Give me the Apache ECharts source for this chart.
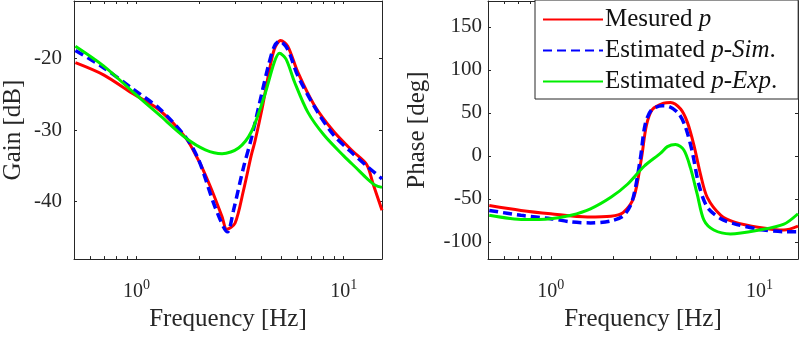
<!DOCTYPE html>
<html>
<head>
<meta charset="utf-8">
<script src="https://cdn.jsdelivr.net/npm/echarts@6/dist/echarts.min.js"></script>
<style>html,body{margin:0;padding:0;background:#fff}#c{width:800px;height:337px}</style>
</head>
<body>
<div id="c"></div>
<script>
// ---- data (frequency in Hz) ----
var gainMeasured = [[0.508,-20.6],[0.694,-22.3],[0.964,-24.95],[1.29,-27.2],[1.73,-31.1],[2.0,-34.3],[2.08,-35.3],[2.32,-38.5],[2.59,-42.1],[2.73,-43.85],[2.99,-43.0],[3.28,-38.5],[3.59,-33.4],[3.73,-31.6],[4.04,-27.0],[4.33,-22.4],[4.63,-18.7],[4.96,-17.5],[5.37,-18.3],[6.0,-21.9],[7.2,-26.5],[8.95,-30.2],[11.1,-33.0],[12.9,-34.8],[13.85,-37.5],[15.3,-41.2]];
var gainSim = [[0.508,-18.9],[0.694,-21.3],[0.964,-24.3],[1.29,-27.0],[1.73,-31.0],[2.0,-34.2],[2.4,-40.8],[2.75,-44.2],[2.94,-41.2],[3.28,-35.3],[3.59,-31.1],[4.04,-24.7],[4.33,-21.05],[4.63,-18.3],[4.90,-17.6],[5.37,-18.75],[6.0,-22.4],[7.49,-27.5],[8.95,-30.7],[10.8,-33.0],[12.9,-35.0],[15.3,-36.8]];
var gainExp = [[0.508,-18.3],[0.694,-21.05],[0.964,-24.7],[1.29,-27.9],[1.73,-31.1],[2.15,-32.75],[2.59,-33.3],[3.11,-32.5],[3.59,-30.2],[4.16,-25.1],[4.63,-20.5],[4.90,-19.3],[5.27,-20.1],[5.79,-23.3],[6.71,-27.5],[8.03,-30.7],[10.0,-33.6],[11.5,-35.3],[13.0,-36.8],[14.2,-37.7],[15.3,-38.0]];

var phaseMeasured = [[0.507,-57.7],[0.719,-63.4],[1.0,-67.3],[1.50,-71],[1.94,-70.2],[2.22,-66],[2.50,-48.2],[2.72,-2.6],[2.87,35],[3.07,54],[3.48,61.2],[3.75,62],[4.19,54.4],[4.51,39.2],[4.85,12.5],[5.22,-21.7],[5.62,-48.2],[6.53,-69.1],[7.53,-76.7],[10,-83.2],[13.1,-86.2],[15.3,-81.6]];
var phaseSim = [[0.507,-63.4],[0.719,-69.1],[1.0,-73],[1.25,-76.7],[1.55,-77.9],[1.94,-75.6],[2.24,-69.1],[2.46,-52],[2.68,-5],[2.83,36],[3.03,53],[3.42,58.2],[3.68,57.5],[4.11,48.7],[4.42,33.5],[4.76,5],[5.12,-33],[5.62,-59.6],[6.53,-73],[7.53,-78.7],[10,-85.5],[13.1,-88.1],[15.3,-88.1]];
var phaseExp = [[0.507,-69.1],[0.745,-74.1],[1.0,-73],[1.25,-69.1],[1.55,-61.6],[1.94,-48.2],[2.33,-33],[2.80,-12.1],[3.36,3.1],[3.62,10.7],[3.96,13.3],[4.34,6.8],[4.67,-14],[5.03,-44.5],[5.42,-74.8],[6.04,-86.2],[7.26,-90.8],[10,-86.2],[13.1,-79.4],[15.3,-67.3]];

var seriesNames = ['Mesured p', 'Estimated p-Sim.', 'Estimated p-Exp.'];
var xTickLabels = [1, 10];
var xTicks = [0.6,0.7,0.8,0.9,1,2,3,4,5,6,7,8,9,10];
var gainTicks = [-40,-30,-20];
var phaseTicks = [-100,-50,0,50,100,150];

var FONT = 'Liberation Serif';
var AX = '#262626';

function xAx(grid, pos, labels) {
  return {
    type: 'log', logBase: 10, gridIndex: grid, position: pos, min: 0.5, max: 15.3,
    name: labels ? 'Frequency [Hz]' : '', nameLocation: 'middle', nameGap: 47,
    nameTextStyle: {fontFamily: FONT, fontSize: 25, color: AX},
    axisLine: {show: true, onZero: false, lineStyle: {color: AX, width: 1}},
    axisTick: {show: true, inside: true, length: 3, customValues: xTicks, lineStyle: {color: AX}},
    minorTick: {show: false},
    splitLine: {show: false},
    axisLabel: labels ? {
      show: true, customValues: xTickLabels, margin: 19, fontFamily: FONT,
      formatter: function (v) { return '{b|10}{s|' + Math.round(Math.log10(v)) + '}'; },
      rich: {
        b: {fontFamily: FONT, fontSize: 20, color: AX, lineHeight: 24, verticalAlign: 'bottom'},
        s: {fontFamily: FONT, fontSize: 14, color: AX, lineHeight: 24, verticalAlign: 'top'}
      }
    } : {show: false}
  };
}
function yAx(grid, pos, min, max, ticks, name, gap, margin) {
  return {
    type: 'value', gridIndex: grid, position: pos, min: min, max: max,
    name: name, nameLocation: 'middle', nameGap: gap,
    nameTextStyle: {fontFamily: FONT, fontSize: 25, color: AX},
    axisLine: {show: true, onZero: false, lineStyle: {color: AX, width: 1}},
    axisTick: {show: true, inside: true, length: 3, customValues: ticks, lineStyle: {color: AX}},
    splitLine: {show: false},
    axisLabel: name ? {
      show: true, customValues: ticks, margin: margin, fontFamily: FONT, fontSize: 21, color: AX,
      formatter: function (v) { return '{n|' + v + '}'; },
      rich: {n: {fontFamily: FONT, fontSize: 21, color: AX}}
    } : {show: false}
  };
}

var colors = ['#ff0000', '#0000ff', '#00ee00'];
function line(name, data, xi, yi, idx) {
  return {
    name: name, type: 'line', data: data, xAxisIndex: xi, yAxisIndex: yi,
    symbol: 'none', smooth: 0.3,
    lineStyle: {color: colors[idx], width: idx === 1 ? 3.5 : 3, type: idx === 1 ? [9, 5] : 'solid'},
    itemStyle: {color: colors[idx]},
    z: 2 + idx
  };
}

var chart = echarts.init(document.getElementById('c'), null, {renderer: 'canvas'});
chart.setOption({
  animation: false,
  backgroundColor: '#fff',
  textStyle: {fontFamily: FONT},
  grid: [
    {left: 72, right: 418, top: 1, bottom: 75},
    {left: 488, right: 2, top: 1, bottom: 75}
  ],
  xAxis: [xAx(0, 'bottom', true), xAx(0, 'top', false), xAx(1, 'bottom', true), xAx(1, 'top', false)],
  yAxis: [
    yAx(0, 'left', -48, -12, gainTicks, 'Gain [dB]', 48, 12),
    yAx(0, 'right', -48, -12, gainTicks, '', 0, 0),
    yAx(1, 'left', -120, 180, phaseTicks, 'Phase [deg]', 58, 6),
    yAx(1, 'right', -120, 180, phaseTicks, '', 0, 0)
  ],
  legend: {
    data: seriesNames, orient: 'vertical', left: 535, top: 0,
    itemWidth: 60, itemHeight: 14, itemGap: 6,
    padding: [7, 21, 5, 7],
    borderColor: '#262626', borderWidth: 1, backgroundColor: '#fff',
    itemStyle: {opacity: 0},
    formatter: function (n) {
      if (n === 'Mesured p') return 'Mesured {i|p}';
      if (n === 'Estimated p-Sim.') return 'Estimated {i|p}-{i|Sim}.';
      return 'Estimated {i|p}-{i|Exp}.';
    },
    textStyle: {fontFamily: FONT, fontSize: 25, color: '#111', padding: [0,0,0,-3],
      rich: {i: {fontFamily: FONT, fontSize: 25, fontStyle: 'italic', color: '#111'}}}
  },
  series: [
    line(seriesNames[0], gainMeasured, 0, 0, 0),
    line(seriesNames[1], gainSim, 0, 0, 1),
    line(seriesNames[2], gainExp, 0, 0, 2),
    line(seriesNames[0], phaseMeasured, 2, 2, 0),
    line(seriesNames[1], phaseSim, 2, 2, 1),
    line(seriesNames[2], phaseExp, 2, 2, 2)
  ]
});
</script>
</body>
</html>
